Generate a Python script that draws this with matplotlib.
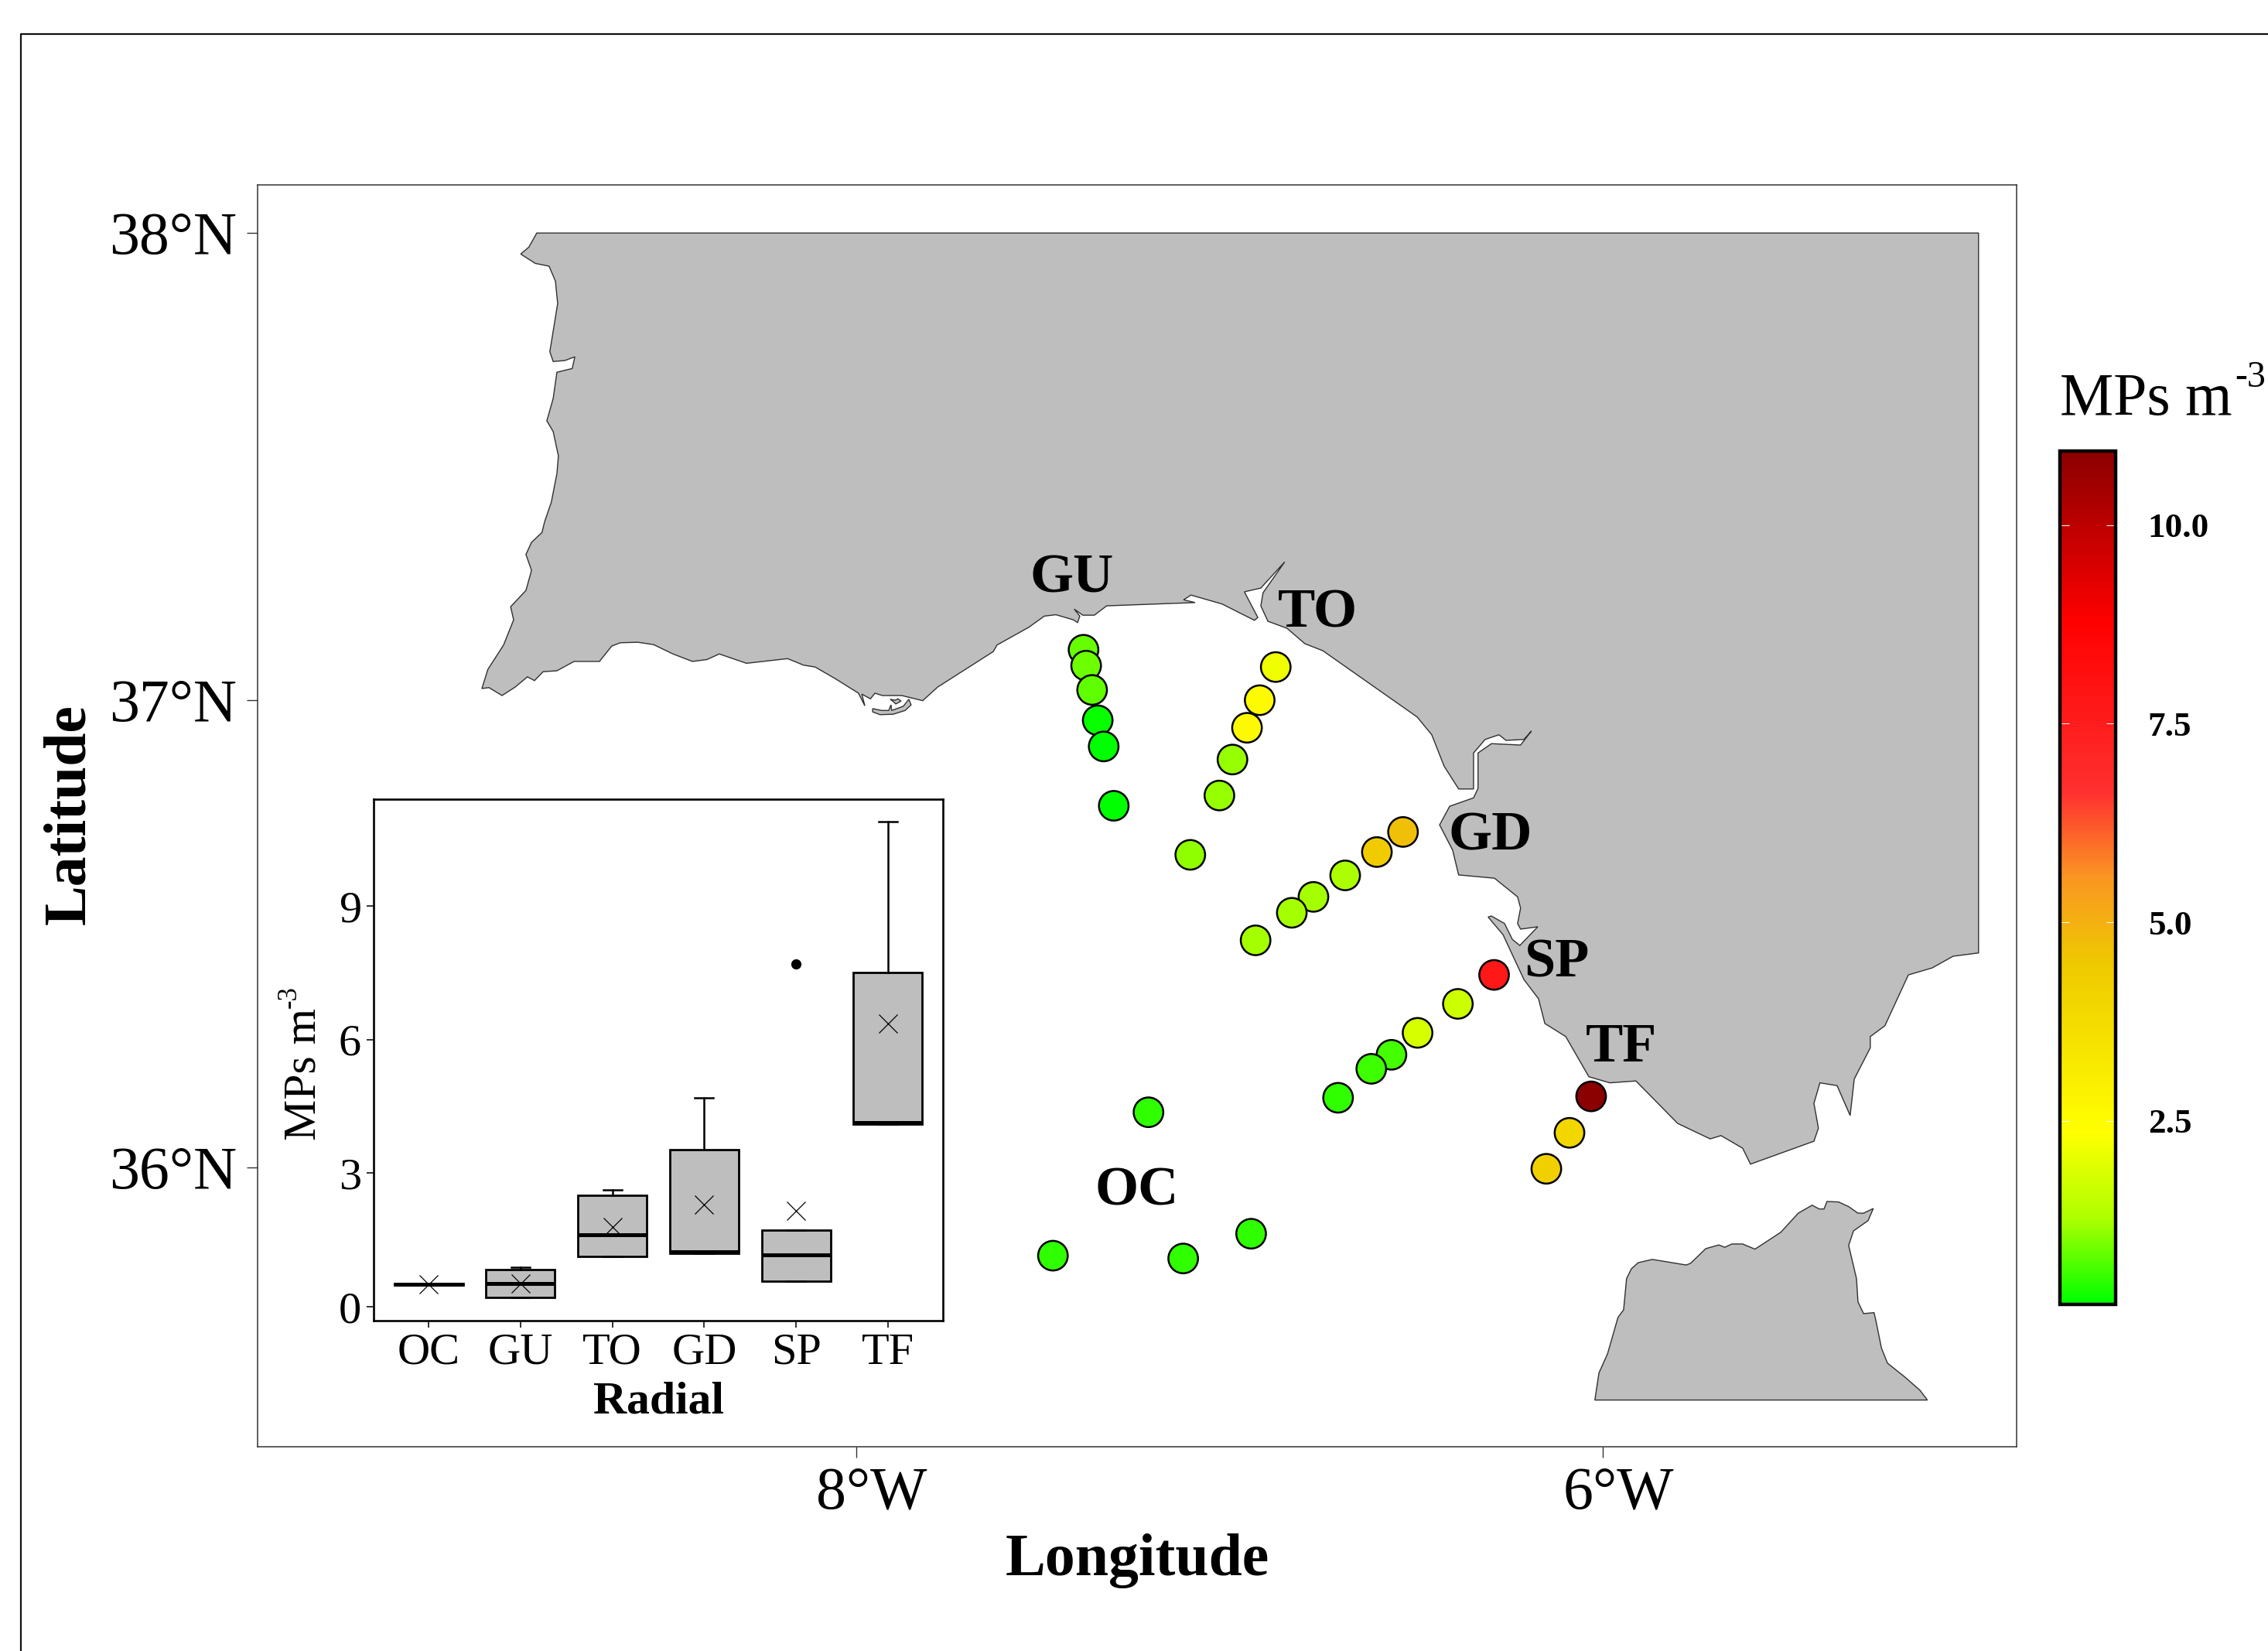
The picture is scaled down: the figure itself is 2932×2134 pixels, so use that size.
import matplotlib
matplotlib.use('Agg')
import matplotlib.pyplot as plt
from matplotlib.colors import LinearSegmentedColormap, Normalize
from matplotlib.lines import Line2D
from matplotlib.transforms import ScaledTranslation

plt.rcParams['font.family'] = ['Liberation Serif', 'DejaVu Serif']

W, H = 2932, 2134

# iberian coast, lon / lat
iberia_lon = [-8.856, -8.877, -8.899, -8.860, -8.823, -8.806, -8.800, -8.821, -8.812, -8.781, -8.754, -8.761,
	-8.802, -8.812, -8.829, -8.812, -8.798, -8.802, -8.817, -8.835, -8.842, -8.870, -8.885, -8.870, -8.885,
	-8.926, -8.918, -8.945, -8.987, -9.003, -8.984, -8.949, -8.914, -8.881, -8.862, -8.839, -8.802, -8.756,
	-8.688, -8.655, -8.632, -8.585, -8.543, -8.491, -8.439, -8.400, -8.367, -8.294, -8.184, -8.141, -8.110,
	-8.056, -7.994, -7.977, -7.985, -7.962, -7.950, -7.930, -7.878, -7.822, -7.782, -7.633, -7.623, -7.538,
	-7.496, -7.465, -7.418, -7.407, -7.401, -7.416, -7.393, -7.362, -7.329, -7.092, -7.123, -7.103, -7.020,
	-6.933, -6.924, -6.960, -6.916, -6.852, -6.910, -6.916, -6.897, -6.846, -6.798, -6.750, -6.497, -6.458,
	-6.425, -6.386, -6.346, -6.346, -6.315, -6.278, -6.259, -6.211, -6.191, -6.220, -6.298, -6.334, -6.334,
	-6.346, -6.410, -6.437, -6.402, -6.386, -6.290, -6.228, -6.220, -6.228, -6.220, -6.174, -6.222, -6.242,
	-6.263, -6.298, -6.307, -6.267, -6.211, -6.172, -6.155, -6.099, -6.037, -5.981, -5.911, -5.799, -5.712,
	-5.683, -5.625, -5.604, -5.434, -5.422, -5.434, -5.418, -5.372, -5.337, -5.326, -5.283, -5.283, -5.244,
	-5.181, -5.117, -5.061, -4.993, -4.993]
iberia_lat = [38.000, 37.970, 37.955, 37.935, 37.929, 37.897, 37.849, 37.746, 37.725, 37.727, 37.735, 37.710,
	37.702, 37.646, 37.598, 37.575, 37.523, 37.485, 37.424, 37.382, 37.359, 37.338, 37.312, 37.278, 37.235,
	37.200, 37.172, 37.118, 37.066, 37.025, 37.027, 37.010, 37.028, 37.050, 37.042, 37.061, 37.063, 37.083,
	37.083, 37.116, 37.123, 37.124, 37.119, 37.099, 37.083, 37.087, 37.099, 37.079, 37.089, 37.075, 37.071,
	37.046, 37.015, 36.988, 37.013, 37.003, 37.015, 37.010, 37.010, 36.999, 37.028, 37.104, 37.118, 37.156,
	37.180, 37.183, 37.172, 37.166, 37.180, 37.195, 37.182, 37.182, 37.202, 37.209, 37.215, 37.225, 37.206,
	37.171, 37.177, 37.232, 37.240, 37.296, 37.230, 37.202, 37.169, 37.154, 37.121, 37.106, 36.964, 36.926,
	36.859, 36.810, 36.810, 36.887, 36.916, 36.926, 36.914, 36.916, 36.934, 36.904, 36.907, 36.887, 36.811,
	36.791, 36.773, 36.733, 36.679, 36.626, 36.619, 36.579, 36.555, 36.522, 36.510, 36.515, 36.475, 36.488,
	36.522, 36.538, 36.536, 36.498, 36.402, 36.361, 36.308, 36.280, 36.194, 36.181, 36.185, 36.094, 36.061,
	36.068, 36.041, 36.007, 36.056, 36.084, 36.137, 36.181, 36.175, 36.111, 36.189, 36.256, 36.280, 36.303,
	36.412, 36.427, 36.452, 36.459, 38.000]

lagoon_lon = [-7.956, -7.956, -7.936, -7.901, -7.869, -7.853, -7.859, -7.874, -7.905, -7.907, -7.913, -7.932]
lagoon_lat = [36.982, 36.975, 36.969, 36.970, 36.978, 36.990, 37.002, 36.987, 36.978, 36.990, 36.978, 36.978]
islet_lon = [-7.909, -7.896, -7.888, -7.880, -7.894, -7.901]
islet_lat = [37.002, 37.000, 37.003, 36.998, 36.992, 36.997]

africa_lon = [-6.021, -6.010, -5.987, -5.959, -5.944, -5.936, -5.923, -5.905, -5.867, -5.776, -5.764, -5.724,
	-5.689, -5.673, -5.654, -5.625, -5.592, -5.523, -5.476, -5.439, -5.420, -5.407, -5.399, -5.368, -5.341,
	-5.316, -5.301, -5.275, -5.289, -5.328, -5.341, -5.320, -5.316, -5.301, -5.273, -5.268, -5.253, -5.237,
	-5.190, -5.150, -5.130]
africa_lat = [35.502, 35.560, 35.601, 35.679, 35.695, 35.762, 35.783, 35.796, 35.803, 35.791, 35.795, 35.826,
	35.834, 35.829, 35.836, 35.836, 35.825, 35.861, 35.902, 35.919, 35.911, 35.911, 35.927, 35.926, 35.916,
	35.902, 35.902, 35.912, 35.886, 35.864, 35.833, 35.762, 35.712, 35.687, 35.689, 35.672, 35.613, 35.581,
	35.551, 35.523, 35.502]

# stations, radial by radial (GU, TO, GD, SP, TF, OC)
st_lon = [-7.391, -7.384, -7.368, -7.353, -7.337, -7.310,
	-6.876, -6.919, -6.953, -6.992, -7.027, -7.105,
	-6.535, -6.605, -6.690, -6.775, -6.833, -6.930,
	-6.291, -6.388, -6.496, -6.566, -6.620, -6.709,
	-6.031, -6.089, -6.151,
	-7.217, -6.942, -7.473, -7.124]
st_lat = [37.108, 37.074, 37.022, 36.957, 36.901, 36.774,
	37.071, 37.000, 36.941, 36.873, 36.796, 36.669,
	36.718, 36.675, 36.625, 36.579, 36.545, 36.486,
	36.412, 36.350, 36.288, 36.241, 36.211, 36.149,
	36.152, 36.074, 35.997,
	36.118, 35.858, 35.811, 35.805]
st_mps = [0.84, 0.89, 0.80, 0.24, 0.20, 0.21,
	2.15, 2.50, 2.62, 1.13, 1.13, 1.10,
	4.70, 4.40, 1.25, 1.21, 1.20, 1.20,
	7.70, 1.67, 1.80, 0.65, 0.58, 0.50,
	10.90, 4.00, 4.18,
	0.52, 0.50, 0.52, 0.50]

radial_names = ['GU', 'TO', 'GD', 'SP', 'TF', 'OC']
radial_lon = [-7.422, -6.764, -6.302, -6.124, -5.950, -7.248]
radial_lat = [37.260, 37.186, 36.709, 36.437, 36.255, 35.948]

# inset boxplot
box_names = ['OC', 'GU', 'TO', 'GD', 'SP', 'TF']
box_q1 = [0.49, 0.21, 1.13, 1.20, 0.58, 4.11]
box_med = [0.51, 0.52, 1.62, 1.23, 1.16, 4.14]
box_q3 = [0.53, 0.84, 2.50, 3.53, 1.73, 7.51]
box_hi = [0.53, 0.89, 2.62, 4.70, 1.73, 10.90]
box_mean = [0.51, 0.52, 1.79, 2.29, 2.15, 6.36]
box_out = [[], [], [], [], [7.70], []]

bar_pos = [0, 0.1, 0.2, 0.3, 0.4, 0.5, 0.6, 0.8, 1]
bar_colors = ['#00FF00', '#AEFF00', '#FFFF00', '#F7E400', '#EEC900', '#FA9622', '#FF3030', '#FF0000', '#8B0000']
bar_ticks = [2.5, 5.0, 7.5, 10.0]

fig = plt.figure(figsize=(W / 100, H / 100), dpi=100)
fig.add_artist(Line2D([27 / W, 27 / W, 1], [0, 1 - 44 / H, 1 - 44 / H], transform=fig.transFigure, color='#111111', lw=1.6))

# map
ax = fig.add_axes([333 / W, 1 - 1870 / H, 2274 / W, 1631 / H])
for xs, ys in [(iberia_lon, iberia_lat), (lagoon_lon, lagoon_lat), (islet_lon, islet_lat), (africa_lon, africa_lat)]:
	ax.fill(xs, ys, facecolor='#BEBEBE', edgecolor='#303030', lw=1.0, zorder=1)

cmap = LinearSegmentedColormap.from_list('mps', list(zip(bar_pos, bar_colors)))
norm = Normalize(0.19, 10.93)
sc = ax.scatter(st_lon, st_lat, c=st_mps, cmap=cmap, norm=norm, s=760, edgecolors='black', linewidths=1.8, zorder=3)

for name, x, y in zip(radial_names, radial_lon, radial_lat):
	ax.text(x, y, name, fontsize=52, fontweight='bold', ha='center', va='center', zorder=4)

ax.set_xlim(-9.604, -4.891)
ax.set_ylim(35.402, 38.103)
ax.set_xticks([-8, -6])
ax.set_xticklabels(['8°W', '6°W'])
ax.set_yticks([36, 37, 38])
ax.set_yticklabels(['36°N', '37°N', '38°N'])
ax.tick_params(axis='both', labelsize=56, length=10, width=1, color='#333333', pad=8)
ax.tick_params(axis='y', pad=9.5)
for lab in ax.get_xticklabels():
	lab.set_transform(lab.get_transform() + ScaledTranslation(0.2, 0, fig.dpi_scale_trans))
for sp in ax.spines.values():
	sp.set_color('#333333')
	sp.set_linewidth(1.1)
ax.set_xlabel('Longitude', fontsize=56, fontweight='bold', va='center')
ax.xaxis.set_label_coords(0.5, -0.0905)
ax.set_ylabel('Latitude', fontsize=56, fontweight='bold', va='center')
ax.yaxis.set_label_coords(-0.1065, 0.501)

# inset
ins = fig.add_axes([483 / W, 1 - 1707 / H, 736 / W, 674 / H])
stats = []
for i in range(len(box_names)):
	stats.append(dict(med=box_med[i], q1=box_q1[i], q3=box_q3[i], whislo=box_q1[i], whishi=box_hi[i],
		mean=box_mean[i], fliers=box_out[i]))
ins.bxp(stats, positions=range(1, 7), widths=0.75, capwidths=0.2, showmeans=True, patch_artist=True,
	boxprops=dict(facecolor='#BEBEBE', edgecolor='black', linewidth=2.0),
	medianprops=dict(color='black', linewidth=3.6, solid_capstyle='butt'),
	whiskerprops=dict(color='black', linewidth=1.8),
	capprops=dict(color='black', linewidth=1.8),
	flierprops=dict(marker='o', markerfacecolor='black', markeredgecolor='black', markersize=8.5),
	meanprops=dict(marker='x', markeredgecolor='black', markeredgewidth=0.9, markersize=17))
ins.set_xlim(0.4, 6.6)
ins.set_ylim(-0.31, 11.40)
ins.set_xticks(range(1, 7))
ins.set_xticklabels(box_names)
ins.set_yticks([0, 3, 6, 9])
ins.tick_params(axis='both', labelsize=42, length=6.5, width=1.3, color='#222222', pad=5)
for sp in ins.spines.values():
	sp.set_linewidth(1.9)
ins.set_xlabel('Radial', fontsize=43, fontweight='bold', va='center')
ins.xaxis.set_label_coords(0.5, -0.156)
# hyphen superscript as in the original, so two texts instead of mathtext
ins.text(-0.121, 0.345, 'MPs m', transform=ins.transAxes, fontsize=43, rotation=90, ha='center', va='bottom', clip_on=False)
ins.text(-0.148, 0.60, '-3', transform=ins.transAxes, fontsize=25, rotation=90, ha='center', va='bottom', clip_on=False)

# colour bar
cax = fig.add_axes([2663 / W, 1 - 1686 / H, 72 / W, 1103 / H])
cb = fig.colorbar(sc, cax=cax, ticks=bar_ticks)
cb.ax.set_yticklabels(['%.1f' % t for t in bar_ticks], fontsize=32.5, fontweight='bold')
cb.ax.tick_params(axis='y', direction='in', left=True, right=True, color='white', width=0.7, length=8.5, pad=30)
cb.outline.set_edgecolor('black')
cb.outline.set_linewidth(3.2)
cax.text(0, 1.0428, 'MPs m', transform=cax.transAxes, fontsize=56, va='baseline', ha='left', clip_on=False)
cax.text(3.14, 1.0755, '-3', transform=cax.transAxes, fontsize=34.5, va='baseline', ha='left', clip_on=False)

fig.savefig('out.png', dpi=100)
